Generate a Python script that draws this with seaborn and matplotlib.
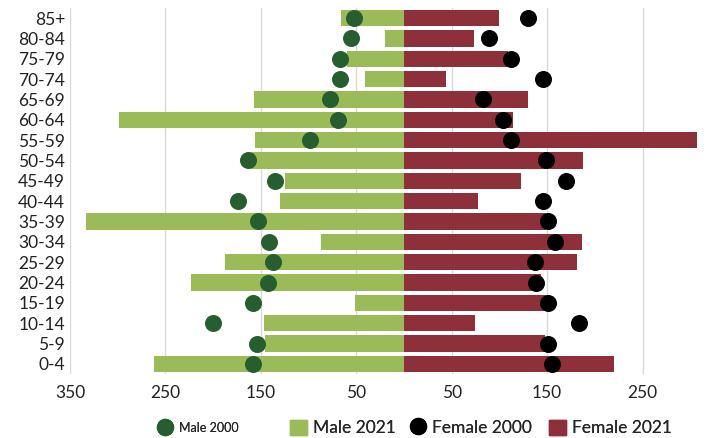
import numpy as np
import pandas as pd
import seaborn as sns
import matplotlib.pyplot as plt
from matplotlib.lines import Line2D
from matplotlib.patches import Patch

# Age groups, top to bottom
ages = ['85+', '80-84', '75-79', '70-74', '65-69', '60-64', '55-59', '50-54', '45-49',
        '40-44', '35-39', '30-34', '25-29', '20-24', '15-19', '10-14', '5-9', '0-4']

male_2021 = [66, 20, 60, 41, 157, 299, 156, 160, 125, 130, 333, 87, 188, 223, 51, 147, 146, 262]
male_2000 = [52, 55, 67, 67, 77, 69, 99, 163, 135, 174, 153, 141, 137, 143, 158, 200, 154, 158]
female_2021 = [100, 73, 109, 44, 130, 114, 307, 188, 123, 78, 149, 187, 181, 144, 150, 74, 148, 220]
female_2000 = [130, 89, 112, 146, 83, 104, 112, 149, 170, 146, 151, 158, 137, 138, 151, 183, 151, 155]

ticks = [-350, -250, -150, -50, 50, 150, 250]

df = pd.DataFrame({'age': ages,
                   'male_2021': -np.array(male_2021),
                   'male_2000': -np.array(male_2000),
                   'female_2021': female_2021,
                   'female_2000': female_2000})

sns.set_style('white')
plt.rcParams['font.family'] = ['Lato', 'DejaVu Sans']

green = '#9bbb59'
dkgreen = '#275e2f'
red = '#8e3039'

fig = plt.figure(figsize=(7.19, 4.38), dpi=100)
ax = fig.add_axes([70 / 719, 0.146, 646 / 719, 0.836])

# bars for 2021, dots for 2000
sns.barplot(data=df, x='male_2021', y='age', color=green, width=0.8,
            saturation=1, linewidth=0, ax=ax, zorder=2)
sns.barplot(data=df, x='female_2021', y='age', color=red, width=0.8,
            saturation=1, linewidth=0, ax=ax, zorder=2)
sns.scatterplot(data=df, x='male_2000', y='age', color=dkgreen, s=150,
                linewidth=0, ax=ax, zorder=3)
sns.scatterplot(data=df, x='female_2000', y='age', color='black', s=150,
                linewidth=0, ax=ax, zorder=3)

ax.set_xlim(-350, 327)
ax.set_ylim(17.5, -0.5)
ax.set_xticks(ticks)
ax.set_xticklabels([str(abs(t)) for t in ticks])
ax.xaxis.grid(True, color='#d9d9d9', linewidth=1)
ax.set_axisbelow(True)
ax.tick_params(axis='both', length=0, labelsize=12.5, colors='#222222')
ax.tick_params(axis='x', pad=8)
ax.set_xlabel('')
ax.set_ylabel('')
for s in ax.spines.values():
    s.set_visible(False)

# legend entries placed one by one, like the spreadsheet legend
entries = [
    (Line2D([], [], marker='o', linestyle='', color=dkgreen, markersize=11.5), 'Male 2000', 9, 156),
    (Patch(color=green), 'Male 2021', 12.5, 290),
    (Line2D([], [], marker='o', linestyle='', color='black', markersize=11.5), 'Female 2000', 12.5, 409),
    (Patch(color=red), 'Female 2021', 12.5, 549),
]
for h, lab, fs, xpx in entries:
    leg = fig.legend([h], [lab], loc='center left', bbox_to_anchor=(xpx / 719, 1 - 428 / 438),
                     frameon=False, fontsize=fs, handlelength=12.5 / fs,
                     handleheight=1.0, handletextpad=0.3 * 12.5 / fs,
                     borderpad=0, borderaxespad=0)
    fig.add_artist(leg)

fig.savefig('out.png', dpi=100)
